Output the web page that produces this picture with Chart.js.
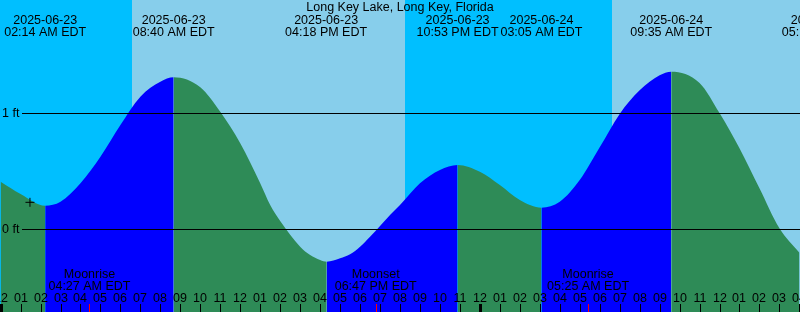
<!DOCTYPE html>
<html>
<head>
<meta charset="utf-8">
<script src="https://cdn.jsdelivr.net/npm/chart.js@4/dist/chart.umd.min.js"></script>
<style>
  html, body { margin: 0; padding: 0; background: #87ceeb; }
  canvas { display: block; }
</style>
</head>
<body>
<canvas id="tideChart" width="800" height="312"></canvas>
<script>
// hours counted from 2025-06-23 00:00 EDT
const stationTitle = 'Long Key Lake, Long Key, Florida';

// water level (ft): roughly hourly, plus the extremes
const levelHours = [0, 1, 2.233, 3, 4, 5, 6, 7, 8, 8.667, 10, 11, 12, 13, 13.5, 14, 15, 15.5, 16, 16.33, 17, 17.5, 18, 18.5,
    19, 19.5, 20, 21, 22, 22.883, 24, 25, 26, 27.083, 28, 29, 30, 31, 32, 33, 33.583, 35, 36, 37, 38, 39, 40];
const levelFeet = [0.408, 0.302, 0.201, 0.235, 0.394, 0.623, 0.897, 1.141, 1.270, 1.308, 1.222, 1.010,
    0.739, 0.394, 0.207, 0.069, -0.152, -0.224, -0.267, -0.282, -0.253, -0.218, -0.152, -0.066,
    0.026, 0.121, 0.207, 0.394, 0.509, 0.552, 0.494, 0.379, 0.250, 0.184, 0.235, 0.422, 0.704, 0.992, 1.196, 1.325, 1.356,
    1.259, 1.000, 0.696, 0.351, 0.006, -0.204];

// high / low tide labels
const eventHours = [2.233, 8.667, 16.3, 22.883, 27.083, 33.583, 41.17];
const eventDates = ['2025-06-23', '2025-06-23', '2025-06-23', '2025-06-23', '2025-06-24', '2025-06-24', '2025-06-24'];
const eventTimes = ['02:14 AM EDT', '08:40 AM EDT', '04:18 PM EDT', '10:53 PM EDT', '03:05 AM EDT', '09:35 AM EDT', '05:10 PM EDT'];

// moon events
const moonHours = [4.45, 18.783, 29.417];
const moonNames = ['Moonrise', 'Moonset', 'Moonrise'];
const moonTimes = ['04:27 AM EDT', '06:47 PM EDT', '05:25 AM EDT'];

// daylight
const sunriseHours = [6.58, 30.62];
const sunsetHours = [20.25];

const hourTicks = [];
const hourLabels = [];
for (let h = 0; h <= 40; h++) {
    hourTicks.push(h);
    let hh = h % 12;
    if (hh === 0) hh = 12;
    hourLabels.push(String(hh).padStart(2, '0'));
}

const refLevels = [1, 0];
const refLabels = ['1 ft', '0 ft'];

const markHour = [1.47];
const markLevel = [0.23];

const NIGHT = '#00bfff';
const DAY = '#87ceeb';
const RISING = '#0000ff';
const FALLING = '#2e8b57';
const FONT = '12.5px "Liberation Sans", Arial, sans-serif';

const tidePoints = levelHours.map((h, i) => ({x: h, y: levelFeet[i]}));

const bandsPlugin = {
    id: 'bands',
    beforeDatasetsDraw(chart) {
        const {ctx, chartArea} = chart;
        const xs = chart.scales.x;
        const edges = [];
        sunriseHours.forEach(h => edges.push({h: h, day: true}));
        sunsetHours.forEach(h => edges.push({h: h, day: false}));
        edges.sort((a, b) => a.h - b.h);
        let from = chartArea.left;
        let isDay = !edges[0].day;
        ctx.save();
        edges.forEach(e => {
            const px = Math.round(xs.getPixelForValue(e.h));
            ctx.fillStyle = isDay ? DAY : NIGHT;
            ctx.fillRect(from, chartArea.top, px - from, chartArea.bottom - chartArea.top);
            from = px;
            isDay = e.day;
        });
        ctx.fillStyle = isDay ? DAY : NIGHT;
        ctx.fillRect(from, chartArea.top, chartArea.right - from, chartArea.bottom - chartArea.top);
        ctx.restore();
    }
};

const overlayPlugin = {
    id: 'overlay',
    afterDatasetsDraw(chart) {
        const {ctx, chartArea} = chart;
        const xs = chart.scales.x;
        const ys = chart.scales.y;
        ctx.save();

        // reference lines
        ctx.font = FONT;
        ctx.fillStyle = '#000';
        ctx.strokeStyle = '#000';
        ctx.lineWidth = 1;
        refLevels.forEach((lv, i) => {
            const py = Math.round(ys.getPixelForValue(lv)) + 0.5;
            ctx.beginPath();
            ctx.moveTo(22, py);
            ctx.lineTo(chartArea.right, py);
            ctx.stroke();
            ctx.textAlign = 'left';
            ctx.textBaseline = 'middle';
            ctx.fillText(refLabels[i], 2, py);
        });

        // title and tide events
        ctx.textAlign = 'center';
        ctx.textBaseline = 'alphabetic';
        ctx.fillText(stationTitle, 400, 11);
        eventHours.forEach((h, i) => {
            const px = xs.getPixelForValue(h);
            ctx.fillText(eventDates[i], px, 24);
            ctx.fillText(eventTimes[i], px, 36);
        });

        // moon
        moonHours.forEach((h, i) => {
            const px = xs.getPixelForValue(h);
            ctx.fillText(moonNames[i], px, 278);
            ctx.fillText(moonTimes[i], px, 290);
        });

        // hour labels and ticks
        hourTicks.forEach((h, i) => {
            const px = Math.round(xs.getPixelForValue(h));
            ctx.fillText(hourLabels[i], px, 302);
            if (h % 24 === 0) {
                ctx.fillRect(px - 1, 304, 3, 8);
            } else {
                ctx.fillRect(px, 304, 1, 8);
            }
        });
        ctx.fillStyle = '#ff0000';
        moonHours.forEach(h => {
            const px = Math.round(xs.getPixelForValue(h));
            ctx.fillRect(px, 304, 1, 8);
        });
        ctx.restore();
    }
};

new Chart(document.getElementById('tideChart').getContext('2d'), {
    type: 'line',
    data: {
        datasets: [
            {
                label: 'mark',
                data: markHour.map((h, i) => ({x: h, y: markLevel[i]})),
                showLine: false,
                pointStyle: 'cross',
                pointRadius: 4.5,
                pointBorderWidth: 1,
                pointBorderColor: '#000',
                order: 0
            },
            {
                label: 'tide',
                data: tidePoints,
                fill: 'start',
                backgroundColor: FALLING,
                borderColor: 'rgba(0,0,0,0)',
                borderWidth: 0,
                pointRadius: 0,
                cubicInterpolationMode: 'monotone',
                segment: {
                    backgroundColor: c => c.p1.parsed.y > c.p0.parsed.y ? RISING : FALLING
                },
                order: 1
            }
        ]
    },
    options: {
        responsive: false,
        animation: false,
        layout: {padding: 0, autoPadding: false},
        plugins: {
            legend: {display: false},
            tooltip: {enabled: false}
        },
        scales: {
            x: {type: 'linear', min: -0.03, max: 40.03, display: false},
            y: {type: 'linear', min: -0.7155, max: 1.974, display: false}
        }
    },
    plugins: [bandsPlugin, overlayPlugin]
});
</script>
</body>
</html>
